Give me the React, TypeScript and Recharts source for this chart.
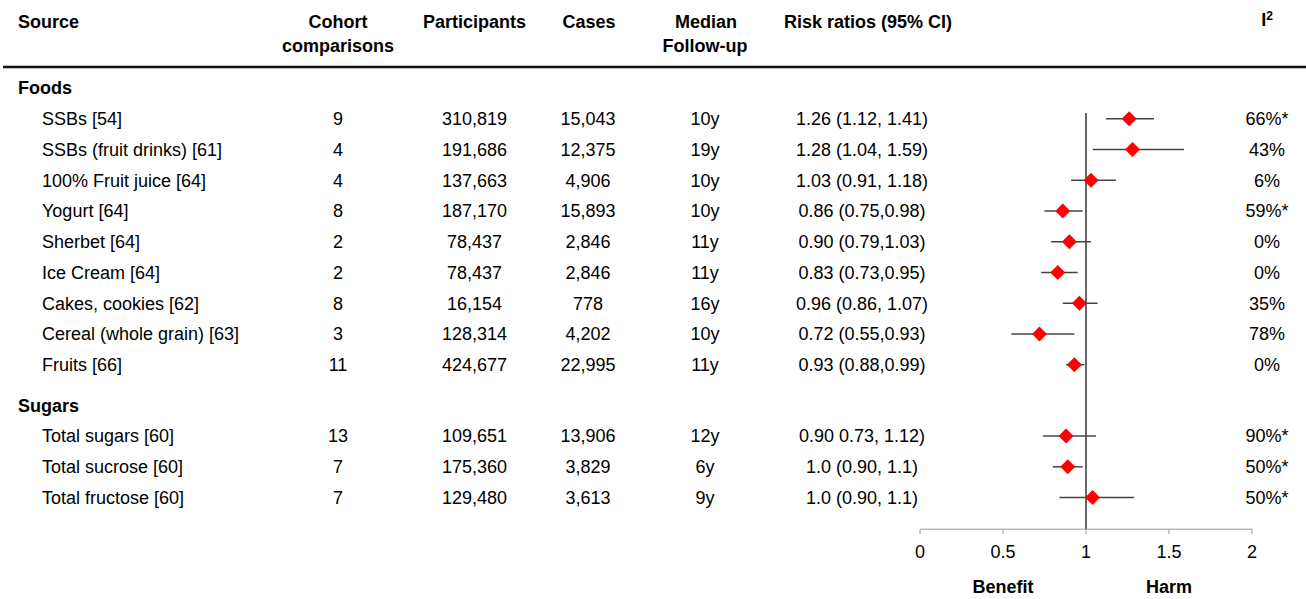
import React from 'react';
import { ComposedChart, Scatter, XAxis, YAxis, ErrorBar, ReferenceLine, Customized } from 'recharts';

const FONT = "'Liberation Sans', Arial, Helvetica, sans-serif";

// ---- Data ----
const sectionNames = ['Foods', 'Sugars'];

const foodLabels = ['SSBs [54]', 'SSBs (fruit drinks) [61]', '100% Fruit juice [64]', 'Yogurt [64]', 'Sherbet [64]', 'Ice Cream [64]', 'Cakes, cookies [62]', 'Cereal (whole grain) [63]', 'Fruits [66]'];
const foodCohorts = ['9', '4', '4', '8', '2', '2', '8', '3', '11'];
const foodParticipants = ['310,819', '191,686', '137,663', '187,170', '78,437', '78,437', '16,154', '128,314', '424,677'];
const foodCases = ['15,043', '12,375', '4,906', '15,893', '2,846', '2,846', '778', '4,202', '22,995'];
const foodFollowUp = ['10y', '19y', '10y', '10y', '11y', '11y', '16y', '10y', '11y'];
const foodRRText = ['1.26 (1.12, 1.41)', '1.28 (1.04, 1.59)', '1.03 (0.91, 1.18)', '0.86 (0.75,0.98)', '0.90 (0.79,1.03)', '0.83 (0.73,0.95)', '0.96 (0.86, 1.07)', '0.72 (0.55,0.93)', '0.93 (0.88,0.99)'];
const foodI2 = ['66%*', '43%', '6%', '59%*', '0%', '0%', '35%', '78%', '0%'];
const foodRR = [1.26, 1.28, 1.03, 0.86, 0.90, 0.83, 0.96, 0.72, 0.93];
const foodLo = [1.12, 1.04, 0.91, 0.75, 0.79, 0.73, 0.86, 0.55, 0.88];
const foodHi = [1.41, 1.59, 1.18, 0.98, 1.03, 0.95, 1.07, 0.93, 0.99];

const sugarLabels = ['Total sugars [60]', 'Total sucrose [60]', 'Total fructose [60]'];
const sugarCohorts = ['13', '7', '7'];
const sugarParticipants = ['109,651', '175,360', '129,480'];
const sugarCases = ['13,906', '3,829', '3,613'];
const sugarFollowUp = ['12y', '6y', '9y'];
const sugarRRText = ['0.90 0.73, 1.12)', '1.0 (0.90, 1.1)', '1.0 (0.90, 1.1)'];
const sugarI2 = ['90%*', '50%*', '50%*'];
const sugarRR = [0.88, 0.89, 1.04];
const sugarLo = [0.74, 0.80, 0.84];
const sugarHi = [1.06, 0.98, 1.29];

const xTicks = [0, 0.5, 1, 1.5, 2];
const sideLabels: Record<string, string> = { '0.5': 'Benefit', '1.5': 'Harm' };

// ---- Build rows ----
const sections = [
  { name: sectionNames[0], labels: foodLabels, cohorts: foodCohorts, participants: foodParticipants, cases: foodCases, followUp: foodFollowUp, rrText: foodRRText, i2: foodI2, rr: foodRR, lo: foodLo, hi: foodHi },
  { name: sectionNames[1], labels: sugarLabels, cohorts: sugarCohorts, participants: sugarParticipants, cases: sugarCases, followUp: sugarFollowUp, rrText: sugarRRText, i2: sugarI2, rr: sugarRR, lo: sugarLo, hi: sugarHi },
];

const SECTION_GAP = 0.32;
const tableRows: any[] = [];
const points: any[] = [];
let pos = 0;
sections.forEach((s, si) => {
  if (si > 0) pos += SECTION_GAP;
  tableRows.push({ kind: 'section', label: s.name, x: 1, y: pos });
  pos += 1;
  s.labels.forEach((l, i) => {
    tableRows.push({
      kind: 'item', label: l, cohort: s.cohorts[i], participants: s.participants[i], cases: s.cases[i],
      followUp: s.followUp[i], rrText: s.rrText[i], i2: s.i2[i], x: 1, y: pos,
    });
    points.push({ x: s.rr[i], y: pos, err: [s.rr[i] - s.lo[i], s.hi[i] - s.rr[i]] });
    pos += 1;
  });
});

const TXT = { fontFamily: FONT, fontSize: 18, fill: '#000' } as const;

const TableRow = (props: any) => {
  const { cy, payload } = props;
  if (cy == null || !payload) return null;
  if (payload.kind === 'section') {
    return (
      <text x={18} y={cy} dy="0.35em" {...TXT} fontWeight="bold">{payload.label}</text>
    );
  }
  return (
    <g>
      <text x={42} y={cy} dy="0.35em" {...TXT}>{payload.label}</text>
      <text x={338} y={cy} dy="0.35em" textAnchor="middle" {...TXT}>{payload.cohort}</text>
      <text x={474.5} y={cy} dy="0.35em" textAnchor="middle" {...TXT}>{payload.participants}</text>
      <text x={588} y={cy} dy="0.35em" textAnchor="middle" {...TXT}>{payload.cases}</text>
      <text x={705} y={cy} dy="0.35em" textAnchor="middle" {...TXT}>{payload.followUp}</text>
      <text x={862} y={cy} dy="0.35em" textAnchor="middle" {...TXT}>{payload.rrText}</text>
      <text x={1267} y={cy} dy="0.35em" textAnchor="middle" {...TXT}>{payload.i2}</text>
    </g>
  );
};

const Diamond = (props: any) => {
  const { cx, cy } = props;
  if (cx == null || cy == null) return null;
  const r = 7.5;
  return <polygon points={`${cx},${cy - r} ${cx + r},${cy} ${cx},${cy + r} ${cx - r},${cy}`} fill="#ff0000" />;
};

const Header = () => (
  <g>
    <text x={18} y={22} dy="0.35em" {...TXT} fontWeight="bold">Source</text>
    <text x={338} y={22} dy="0.35em" textAnchor="middle" {...TXT} fontWeight="bold">Cohort</text>
    <text x={338} y={46} dy="0.35em" textAnchor="middle" {...TXT} fontWeight="bold">comparisons</text>
    <text x={474.5} y={22} dy="0.35em" textAnchor="middle" {...TXT} fontWeight="bold">Participants</text>
    <text x={589} y={22} dy="0.35em" textAnchor="middle" {...TXT} fontWeight="bold">Cases</text>
    <text x={706} y={22} dy="0.35em" textAnchor="middle" {...TXT} fontWeight="bold">Median</text>
    <text x={705} y={46} dy="0.35em" textAnchor="middle" {...TXT} fontWeight="bold">Follow-up</text>
    <text x={784} y={22} dy="0.35em" {...TXT} fontWeight="bold">Risk ratios (95% CI)</text>
    <text x={1267} y={20} dy="0.35em" textAnchor="middle" {...TXT} fontWeight="bold">
      I<tspan fontSize={12} dy="-6">2</tspan>
    </text>
    <line x1={3} x2={1306} y1={67} y2={67} stroke="#111" strokeWidth={2.5} />
  </g>
);

const AxisTick = (props: any) => {
  const { x, y, payload } = props;
  const v = payload?.value;
  const side = sideLabels[String(v)];
  return (
    <g>
      <text x={x} y={y + 15} dy="0.35em" textAnchor="middle" {...TXT}>{String(v)}</text>
      {side ? (
        <text x={x} y={y + 50} dy="0.35em" textAnchor="middle" {...TXT} fontWeight="bold">{side}</text>
      ) : null}
    </g>
  );
};

export default function App() {
  return (
    <div style={{ position: 'absolute', left: 0, top: 0, width: 1306, height: 599, background: '#fff' }}>
      <ComposedChart width={1306} height={599} margin={{ top: 72.6, right: 54, bottom: 9.8, left: 920 }}>
        <XAxis
          type="number"
          dataKey="x"
          domain={[0, 2]}
          ticks={xTicks}
          height={60}
          stroke="#999"
          tickSize={5}
          tickMargin={2}
          tick={<AxisTick />}
          interval={0}
        />
        <YAxis type="number" dataKey="y" domain={[-0.5, 14.35]} reversed hide />
        <Customized component={<Header />} />
        <ReferenceLine
          segment={[{ x: 1, y: 0.81 }, { x: 1, y: 14.35 }]}
          stroke="#333"
          strokeWidth={1.5}
        />
        <Scatter data={tableRows} shape={TableRow} isAnimationActive={false} />
        <Scatter data={points} shape={Diamond} isAnimationActive={false}>
          <ErrorBar dataKey="err" direction="x" width={0} stroke="#444" strokeWidth={1.5} />
        </Scatter>
      </ComposedChart>
    </div>
  );
}
